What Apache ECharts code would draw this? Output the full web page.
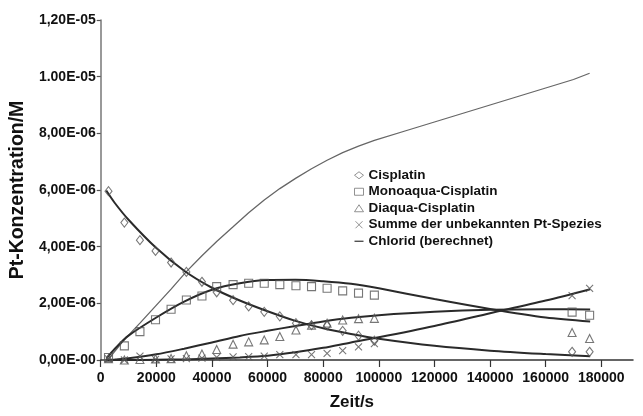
<!DOCTYPE html>
<html><head><meta charset="utf-8">
<script src="https://cdn.jsdelivr.net/npm/echarts@6/dist/echarts.min.js"></script>
<style>html,body{margin:0;padding:0;background:#fff}#c{width:643px;height:416px}</style>
</head><body><div id="c"></div>
<script>
// measurement times (s)
const times = [2800, 8500, 14100, 19700, 25300, 30800, 36400, 41700, 47600, 53200, 58800, 64400, 70200, 75800, 81400, 87000, 92700, 98400, 169500, 175800];
// concentrations in 1e-6 M
const cisplatin = [5.96, 4.85, 4.23, 3.85, 3.44, 3.11, 2.76, 2.39, 2.11, 1.89, 1.70, 1.54, 1.30, 1.23, 1.21, 1.03, 0.86, 0.68, 0.29, 0.29];
const monoaqua  = [0.09, 0.50, 1.00, 1.42, 1.79, 2.12, 2.26, 2.59, 2.66, 2.71, 2.71, 2.66, 2.62, 2.59, 2.53, 2.44, 2.36, 2.29, 1.69, 1.58];
const diaqua    = [0.05, 0.00, 0.02, 0.04, 0.05, 0.15, 0.21, 0.37, 0.56, 0.64, 0.71, 0.83, 1.06, 1.23, 1.30, 1.41, 1.46, 1.47, 0.97, 0.76];
const summe     = [0.04, 0.00, 0.14, 0.02, 0.04, 0.05, 0.07, 0.09, 0.11, 0.12, 0.14, 0.19, 0.19, 0.19, 0.23, 0.33, 0.46, 0.58, 2.27, 2.53];
// fitted curves
const fitTimes     = [2000, 5000, 10000, 20000, 30000, 40000, 50000, 60000, 70000, 80000, 90000, 100000, 120000, 140000, 160000, 176000];
const fitCisplatin = [5.98, 5.55, 4.95, 3.95, 3.15, 2.55, 2.10, 1.72, 1.38, 1.12, 0.92, 0.75, 0.50, 0.33, 0.21, 0.13];
const fitMonoaqua  = [0.05, 0.39, 0.86, 1.50, 2.06, 2.48, 2.71, 2.82, 2.83, 2.78, 2.69, 2.53, 2.15, 1.80, 1.50, 1.36];
const fitDiaqua    = [0.00, 0.02, 0.06, 0.20, 0.40, 0.62, 0.85, 1.03, 1.20, 1.36, 1.49, 1.58, 1.70, 1.77, 1.79, 1.78];
const fitSumme     = [0.00, 0.00, 0.00, 0.01, 0.02, 0.05, 0.09, 0.15, 0.27, 0.43, 0.62, 0.80, 1.20, 1.65, 2.10, 2.50];
// calculated chloride
const chloridTimes = [2500, 8500, 14100, 19700, 25300, 30800, 36400, 41700, 47600, 53200, 58800, 64400, 70200, 75800, 81400, 87000, 92700, 98400, 110000, 120000, 130000, 140000, 150000, 160000, 170000, 175800];
const chlorid      = [0.00, 0.72, 1.30, 1.90, 2.50, 3.12, 3.68, 4.18, 4.70, 5.20, 5.65, 6.05, 6.42, 6.75, 7.05, 7.32, 7.55, 7.75, 8.10, 8.40, 8.70, 9.00, 9.30, 9.60, 9.90, 10.12];

const xTicks = [0, 20000, 40000, 60000, 80000, 100000, 120000, 140000, 160000, 180000];
const yTickLabels = ['0,00E-00', '2,00E-06', '4,00E-06', '6,00E-06', '8,00E-06', '1.00E-05', '1,20E-05'];
const names = ['Cisplatin', 'Monoaqua-Cisplatin', 'Diaqua-Cisplatin', 'Summe der unbekannten Pt-Spezies', 'Chlorid (berechnet)'];

const pair = (xs, ys) => xs.map((x, i) => [x, ys[i]]);
const FONT = "'Liberation Sans', Arial, sans-serif";
const markerStyle = {color: 'rgba(255,255,255,0)', borderColor: '#555', borderWidth: 1.1};
const xPath = 'path://M0,0L10,10M10,0L0,10';
const dashPath = 'path://M0,0h12v1.6h-12z';
const legendHollow = {color: 'rgba(255,255,255,0)', borderColor: '#777', borderWidth: 1};

function scatter(name, data, symbol, size) {
  return {name, type: 'scatter', data: pair(times, data), symbol, symbolSize: size,
    itemStyle: markerStyle, z: 3, silent: true};
}
function fit(data) {
  return {type: 'line', data: pair(fitTimes, data), showSymbol: false, symbol: 'none', smooth: 0.3,
    lineStyle: {color: '#2a2a2a', width: 2}, z: 2, silent: true};
}

const chart = echarts.init(document.getElementById('c'), null, {renderer: 'canvas'});
chart.setOption({
  animation: false,
  color: ['#555', '#555', '#555', '#555', '#2a2a2a', '#2a2a2a', '#2a2a2a', '#2a2a2a', '#666'],
  textStyle: {fontFamily: FONT},
  grid: {left: 97, right: 10, top: 20, bottom: 55, containLabel: false},
  legend: {
    left: 354, top: 167, orient: 'vertical', selectedMode: false,
    itemWidth: 9, itemHeight: 7, itemGap: 0, padding: 0, symbolKeepAspect: true,
    textStyle: {fontFamily: FONT, fontWeight: 'bold', fontSize: 13.5, color: '#111', lineHeight: 16.5},
    data: [
      {name: names[0], icon: 'diamond', itemStyle: legendHollow},
      {name: names[1], icon: 'rect', itemStyle: legendHollow},
      {name: names[2], icon: 'triangle', itemStyle: legendHollow},
      {name: names[3], icon: xPath, itemStyle: legendHollow},
      {name: names[4], icon: dashPath, itemStyle: {color: '#333', borderWidth: 0}}
    ]
  },
  xAxis: {
    type: 'value', min: 0, max: 191400,
    name: 'Zeit/s', nameLocation: 'middle', nameGap: 34,
    nameTextStyle: {fontFamily: FONT, fontWeight: 'bold', fontSize: 17, color: '#111', padding: [0, 30, 0, 0]},
    axisLine: {show: true, lineStyle: {color: '#333', width: 1.5}},
    axisTick: {show: true, length: 7, customValues: xTicks, lineStyle: {color: '#333', width: 1.2}},
    axisLabel: {customValues: xTicks, margin: 11, fontFamily: FONT, fontWeight: 'bold', fontSize: 14, color: '#111',
      formatter: v => String(v)},
    splitLine: {show: false}
  },
  yAxis: {
    type: 'value', min: 0, max: 12, interval: 2,
    name: 'Pt-Konzentration/M', nameLocation: 'middle', nameGap: 62,
    nameTextStyle: {fontFamily: FONT, fontWeight: 'bold', fontSize: 19.5, color: '#111'},
    axisLine: {show: true, lineStyle: {color: '#777', width: 1.5}},
    axisTick: {show: true, length: 4, lineStyle: {color: '#555', width: 1.2}},
    axisLabel: {margin: 5, fontFamily: FONT, fontWeight: 'bold', fontSize: 14, color: '#111',
      formatter: v => yTickLabels[Math.round(v / 2)]},
    splitLine: {show: false}
  },
  series: [
    scatter(names[0], cisplatin, 'diamond', [7, 9]),
    scatter(names[1], monoaqua, 'rect', 8),
    scatter(names[2], diaqua, 'triangle', 8),
    scatter(names[3], summe, xPath, 7),
    fit(fitCisplatin), fit(fitMonoaqua), fit(fitDiaqua), fit(fitSumme),
    {name: names[4], type: 'line', data: pair(chloridTimes, chlorid), showSymbol: false, symbol: 'none',
      itemStyle: {color: '#666'}, lineStyle: {color: '#666', width: 1.3}, z: 1, silent: true}
  ]
});
</script></body></html>
